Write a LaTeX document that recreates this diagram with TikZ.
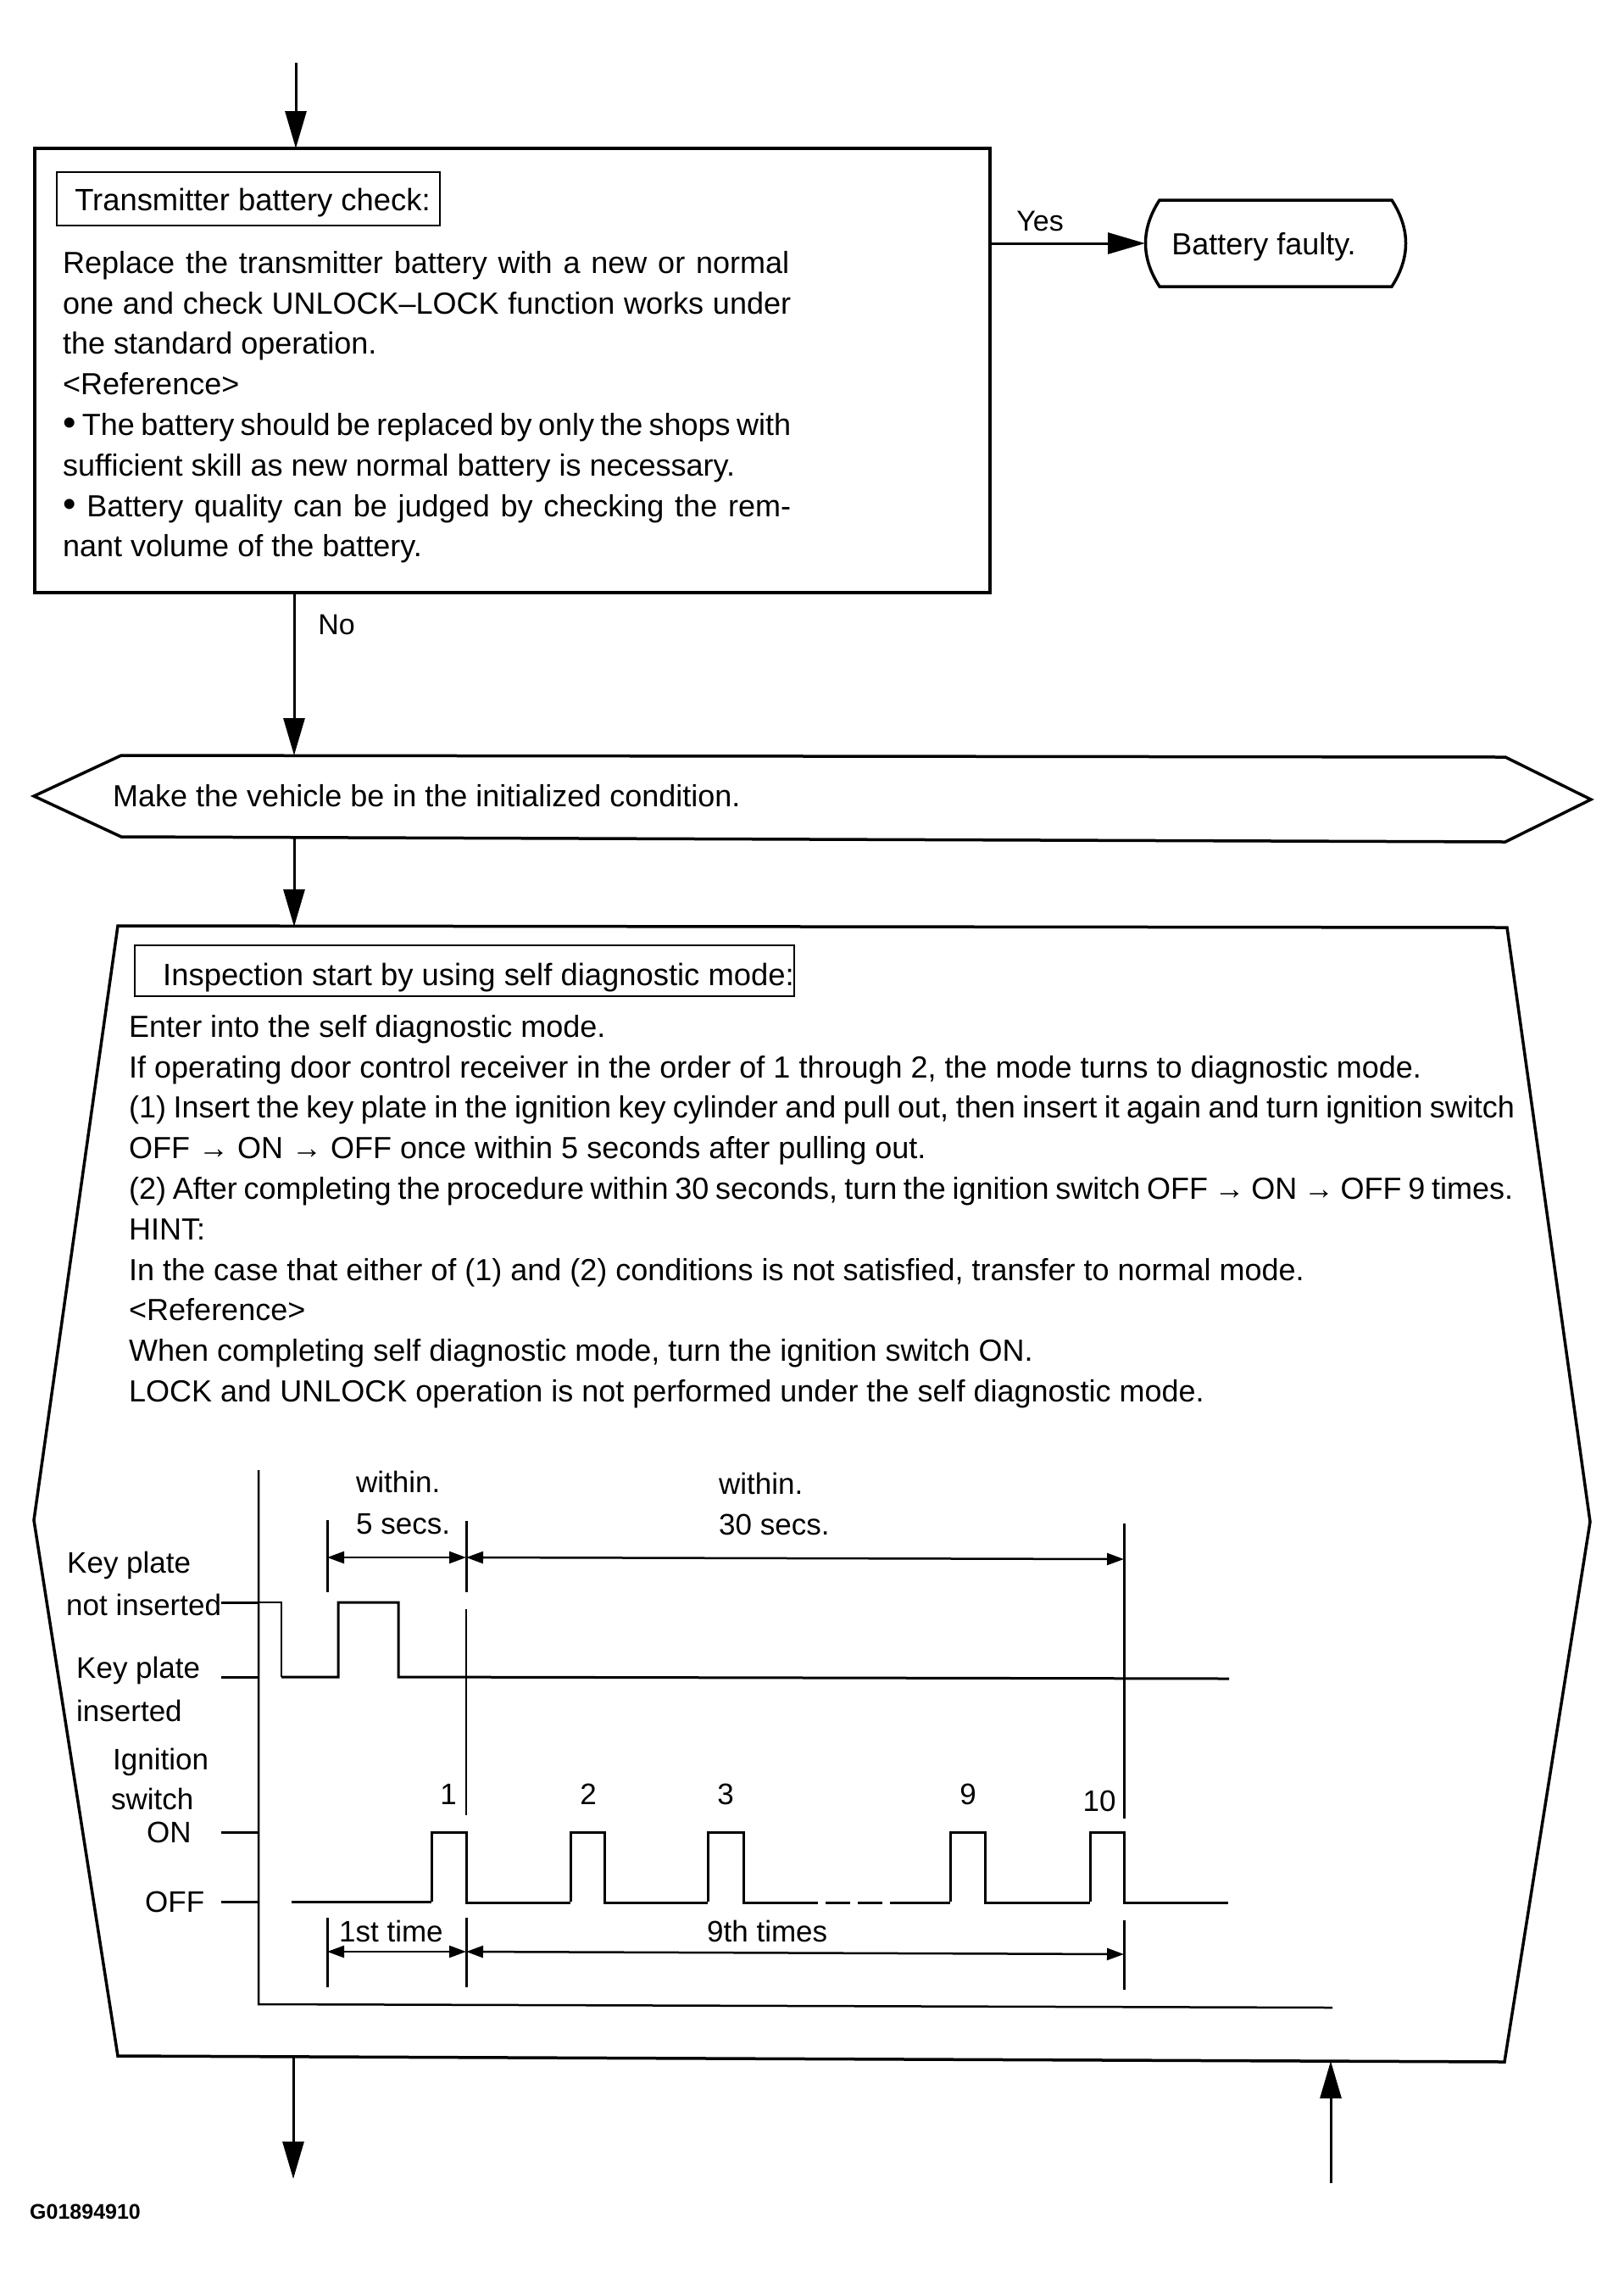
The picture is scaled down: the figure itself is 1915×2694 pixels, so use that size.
\documentclass[tikz,border=0pt]{standalone}
\usepackage{fontspec}
\setmainfont{Liberation Sans}
\usepackage{tikz}
\usetikzlibrary{arrows.meta,positioning,calc}
\newcommand{\fitline}[2]{\makebox[#1][s]{#2}}
\newcommand{\bigdot}{{\fontsize{44}{48}\selectfont\textbullet}}

\begin{document}
\begin{tikzpicture}[x=1pt, y=-1pt, line join=miter,
      textfont/.style={font=\fontsize{36}{47.8}\selectfont},
      bodytext/.style={anchor=north west, inner sep=0pt, align=left,
                       font=\fontsize{36}{47.8}\selectfont},
      label/.style={inner sep=0pt, font=\fontsize{35}{40}\selectfont},
      outline/.style={draw, line width=3.5pt},
      titlebox/.style={draw, line width=2pt, inner sep=0pt, font=\fontsize{36.4}{48}\selectfont, text height=31pt, text depth=3pt},
      arr/.style={line width=3pt, -{Triangle[length=44pt,width=25pt]}},
      dim/.style={line width=2.5pt, {Triangle[length=20pt,width=14pt]}-{Triangle[length=20pt,width=14pt]}},
      sig/.style={line width=3pt},
      tick/.style={line width=3pt}
    ]
    \useasboundingbox (0,0) rectangle (1915,2694);

    % first check box
    \node[outline, minimum width=1127pt, minimum height=524pt, inner sep=0pt] (check) at (604.5,437) {};
    \node[titlebox, minimum width=452pt, minimum height=63pt] (checktitle) at (293,234.5) {\hspace*{10pt}Transmitter battery check:};
    \node[bodytext] (checkbody) at (74,296)
      {\fitline{857pt}{Replace the transmitter battery with a new or normal}\\
       \fitline{859pt}{one and check UNLOCK--LOCK function works under}\\
       the standard operation.\\
       <Reference>\\
       \fitline{859pt}{\bigdot\ The battery should be replaced by only the shops with}\\
       sufficient skill as new normal battery is necessary.\\
       \fitline{859pt}{\bigdot\ Battery quality can be judged by checking the rem-}\\
       nant volume of the battery.};
    \coordinate (start) at (349,74);
    \draw[arr] (start) -- (349,175);

    % result
    \coordinate (fa) at (1368,236);
    \coordinate (fb) at (1642,236);
    \coordinate (fc) at (1642,338);
    \coordinate (fd) at (1368,338);
    \draw[outline] (fa) -- (fb) .. controls (1664,270) and (1664,304) .. (fc) -- (fd)
      .. controls (1346,304) and (1346,270) .. (fa) -- cycle;
    \node[textfont, inner sep=0pt] (faulty) at (1491,291) {Battery faulty.};
    \coordinate (fleft) at (1351,287);
    \draw[arr] (check.east |- fleft) -- (fleft);
    \node[label, font=\fontsize{34}{40}\selectfont] (yes) at (1227,261) {Yes};

    % initialized condition
    \coordinate (htip) at (40,939);
    \coordinate (hright) at (1877,943);
    \draw[outline] (htip) -- (143,891) -- (1776,893) -- (hright) -- (1776,993) -- (143,987) -- cycle;
    \node[textfont, anchor=west, inner sep=0pt] (init) at (133,939) {Make the vehicle be in the initialized condition.};
    \coordinate (htop) at (347,891);
    \coordinate (hbot) at (347,988);
    \draw[arr] (347,699) -- (htop);
    \node[label, font=\fontsize{34}{40}\selectfont] (no) at (397,737) {No};

    % inspection box
    \coordinate (itop) at (347,1093);
    \draw[outline] (139,1092) -- (1778,1094) -- (1876,1795) -- (1775,2432) -- (139,2425) -- (40,1793) -- cycle;
    \draw[arr] (hbot) -- (itop);
    \node[titlebox, minimum width=776pt, minimum height=60pt, text height=34pt, text depth=0pt] (insptitle) at (548,1145) {\hspace*{33pt}Inspection start by using self diagnostic mode:};
    \node[bodytext] (inspbody) at (152,1197)
      {Enter into the self diagnostic mode.\\
       If operating door control receiver in the order of 1 through 2, the mode turns to diagnostic mode.\\
       \fitline{1635pt}{(1) Insert the key plate in the ignition key cylinder and pull out, then insert it again and turn ignition switch}\\
       OFF → ON → OFF once within 5 seconds after pulling out.\\
       \fitline{1633pt}{(2) After completing the procedure within 30 seconds, turn the ignition switch OFF → ON → OFF 9 times.}\\
       HINT:\\
       In the case that either of (1) and (2) conditions is not satisfied, transfer to normal mode.\\
       <Reference>\\
       When completing self diagnostic mode, turn the ignition switch ON.\\
       LOCK and UNLOCK operation is not performed under the self diagnostic mode.};

    % exits
    \coordinate (ibot) at (346,2426);
    \coordinate (outtip) at (346,2570);
    \coordinate (iin) at (1570,2431);
    \coordinate (infoot) at (1570,2575);
    \draw[arr] (ibot) -- (outtip);
    \draw[arr] (infoot) -- (iin);

    % chart axes
    \draw[line width=2.5pt] (305,1734) -- (305,2364) -- (1572,2368);
    \foreach \y in {1890,1978,2161,2243}{
      \draw[tick] (261,\y) -- (305,\y);
    }

    % key plate signal
    \draw[line width=1.5pt] (305,1890) -- (332,1890) -- (332,1978);
    \draw[sig] (332,1978) -- (399,1978) -- (399,1890) -- (470,1890) -- (470,1978) -- (1450,1980);

    % ignition signal
    \draw[sig] (344,2243) -- (509,2243);
    \foreach \a/\b/\c in {509/550/673, 673/713/835, 835/877/965, 1121/1162/1286, 1286/1326/1449}{
      \draw[sig] (\a,2243) -- (\a,2161) -- (\b,2161) -- (\b,2244) -- (\c,2244);
    }
    \draw[sig] (974,2244) -- (1003,2244);
    \draw[sig] (1012,2244) -- (1041,2244);
    \draw[sig] (1050,2244) -- (1121,2244);

    % time marks
    \draw[line width=3pt] (386,1793) -- (386,1878);
    \draw[line width=3pt] (550,1794) -- (550,1878);
    \draw[line width=2pt] (550,1898) -- (550,2141);
    \draw[line width=3pt] (1326,1797) -- (1326,2145);
    \draw[line width=3pt] (386,2262) -- (386,2344);
    \draw[line width=3pt] (550,2262) -- (550,2344);
    \draw[line width=3pt] (1326,2265) -- (1326,2347);
    \draw[dim] (386,1837) -- (550,1837);
    \draw[dim] (550,1837) -- (1326,1839);
    \draw[dim] (386,2302) -- (550,2302);
    \draw[dim] (550,2302) -- (1326,2305);

    % chart labels
    \node[label, anchor=west] (w1) at (420,1748) {within.};
    \node[label, anchor=west] (s1) at (420,1798) {5 secs.};
    \node[label, anchor=west] (w2) at (848,1750) {within.};
    \node[label, anchor=west] (s2) at (848,1798) {30 secs.};
    \node[label, anchor=west] (kp1) at (79,1846) {Key plate};
    \node[label, anchor=west] (kn) at (78,1893) {not inserted};
    \node[label, anchor=west] (kp2) at (90,1970) {Key plate};
    \node[label, anchor=west] (ki) at (90,2018) {inserted};
    \node[label, anchor=west] (ig) at (133,2078) {Ignition};
    \node[label, anchor=west] (sw) at (131,2122) {switch};
    \node[label, anchor=west] (on) at (173,2161) {ON};
    \node[label, anchor=west] (off) at (171,2243) {OFF};
    \foreach \x/\n in {529/1, 694/2, 856/3, 1142/9}{
      \node[label] (n\n) at (\x,2116) {\n};
    }
    \node[label] (n10) at (1297,2124) {10};
    \node[label, anchor=west] (first) at (400,2278) {1st time};
    \node[label, anchor=west] (ninth) at (834,2278) {9th times};
    \node[anchor=west, inner sep=0pt, font=\fontsize{25}{28}\bfseries\selectfont] (code) at (35,2609) {G01894910};
\end{tikzpicture}
\end{document}
